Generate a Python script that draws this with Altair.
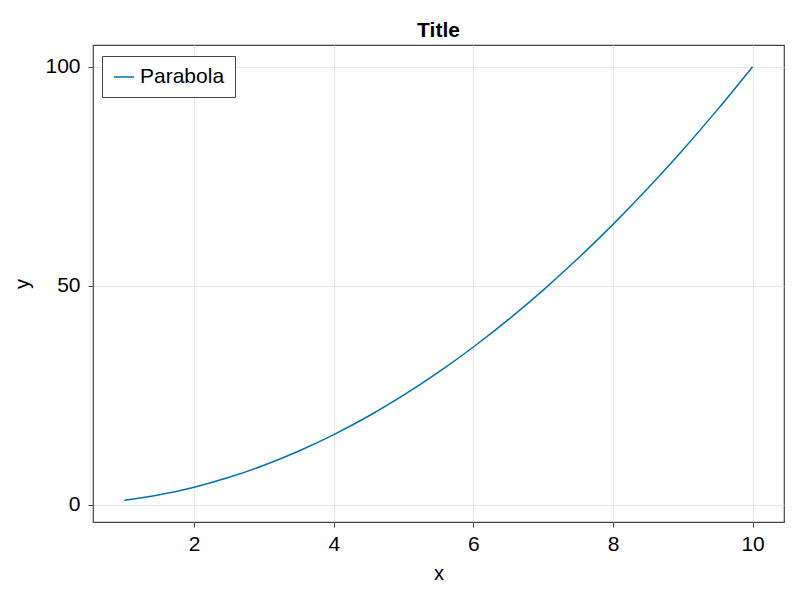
import altair as alt
import pandas as pd

xs = [1.0, 1.5, 2.0, 2.5, 3.0, 3.5, 4.0, 4.5, 5.0, 5.5, 6.0, 6.5, 7.0, 7.5, 8.0, 8.5, 9.0, 9.5, 10.0]
ys = [1.0, 2.25, 4.0, 6.25, 9.0, 12.25, 16.0, 20.25, 25.0, 30.25, 36.0, 42.25, 49.0, 56.25, 64.0, 72.25, 81.0, 90.25, 100.0]
series = ["Parabola"] * len(xs)
x_ticks = [2, 4, 6, 8, 10]
y_ticks = [0, 50, 100]

df = pd.DataFrame({"x": xs, "y": ys, "series": series})

FONT = "Liberation Sans"

chart = alt.Chart(df).mark_line(strokeWidth=1.5, interpolate="monotone", clip=True).encode(
    x=alt.X("x:Q", scale=alt.Scale(domain=[0.55, 10.45], nice=False, zero=False),
            axis=alt.Axis(values=x_ticks, title="x", format="d")),
    y=alt.Y("y:Q", scale=alt.Scale(domain=[-3.95, 104.95], nice=False, zero=False),
            axis=alt.Axis(values=y_ticks, title="y", format="d")),
    color=alt.Color("series:N", scale=alt.Scale(range=["#0072B2"]),
                    legend=alt.Legend(title=None, orient="none", legendX=9, legendY=11,
                                      symbolType="stroke", symbolSize=400, symbolStrokeWidth=1.5,
                                      labelFontSize=21, labelFont=FONT, labelColor="black",
                                      strokeColor="#444", padding=10, symbolOffset=1,
                                      fillColor="white", labelOffset=5)),
).properties(
    width=691, height=477,
    title=alt.TitleParams("Title", fontSize=21, font=FONT, fontWeight="bold", color="black", offset=4),
    autosize=alt.AutoSizeParams(type="none"),
    padding={"left": 85, "top": 37, "right": 8, "bottom": 70},
).configure_view(
    stroke="#444", strokeWidth=1.2
).configure_axis(
    domain=False, grid=True, gridColor="#e6e6e6", gridWidth=1,
    tickColor="#444", tickSize=5, tickWidth=1,
    labelFont=FONT, labelFontSize=21, labelColor="black",
    titleFont=FONT, titleFontSize=20, titleColor="black", titleFontWeight="normal",
).configure_axisX(labelPadding=6, titlePadding=9).configure_axisY(labelPadding=8, titlePadding=12)

chart.save("out.html", embed_options={"renderer": "svg", "actions": False})
